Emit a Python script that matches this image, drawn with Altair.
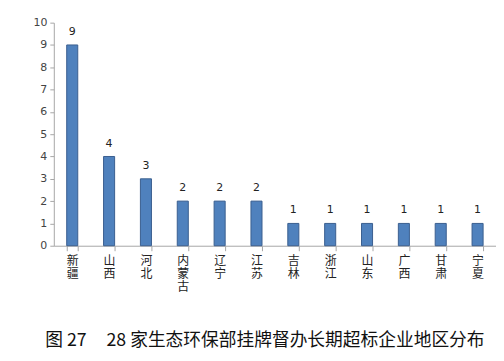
import altair as alt
import pandas as pd

regions = ["新疆", "山西", "河北", "内蒙古", "辽宁", "江苏", "吉林", "浙江", "山东", "广西", "甘肃", "宁夏"]
counts = [9, 4, 3, 2, 2, 2, 1, 1, 1, 1, 1, 1]
y_ticks = list(range(0, 11))
title_text = "图 27\u00a0\u00a0\u00a0\u00a0\u00a028 家生态环保部挂牌督办长期超标企业地区分布"

df = pd.DataFrame({"region": regions, "count": counts})

font = "Noto Sans CJK SC"

x = alt.X(
    "region:N",
    sort=regions,
    scale=alt.Scale(paddingInner=0.7, paddingOuter=0.35),
    axis=alt.Axis(
        title=None,
        labelAngle=0,
        labelExpr="split(datum.label, '')",
        labelFont=font,
        labelFontSize=12,
        labelLineHeight=13,
        labelColor="#222222",
        labelPadding=5,
        labelBaseline="top",
        labelOverlap=False,
        tickBand="extent",
        tickSize=5,
        tickColor="#a6a6a6",
        domainColor="#a6a6a6",
    ),
)
y = alt.Y(
    "count:Q",
    scale=alt.Scale(domain=[0, 10], nice=False),
    axis=alt.Axis(
        title=None,
        values=y_ticks,
        tickCount=11,
        tickMinStep=1,
        grid=False,
        labelOverlap=False,
        labelBound=False,
        labelSeparation=0,
        tickSize=4,
        tickColor="#a6a6a6",
        domainColor="#a6a6a6",
        labelColor="#444444",
        labelFont="DejaVu Sans",
        labelFontSize=11,
        labelPadding=3,
    ),
)

base = alt.Chart(df).encode(x=x, y=y)
bars = base.mark_bar(color="#4F81BD", stroke="#3A5F8F", strokeWidth=1)
texts = base.mark_text(dy=-13, fontSize=11, font="DejaVu Sans", color="#222222").encode(text="count:Q")

chart = (
    alt.layer(bars, texts)
    .properties(
        width=444,
        height=224,
        padding={"left": 46, "top": 14, "right": 0, "bottom": 107},
        autosize=alt.AutoSizeParams(type="none"),
        title=alt.TitleParams(
            text=title_text,
            orient="bottom",
            anchor="middle",
            font=font,
            fontSize=17.8,
            fontWeight="normal",
            color="#111111",
            offset=40,
            dx=-10,
        ),
    )
    .configure_view(stroke=None)
    .configure_axisY(labelOverlap=False, tickCount=11)
)

chart.save("out.html", embed_options={"renderer": "svg", "actions": False})
